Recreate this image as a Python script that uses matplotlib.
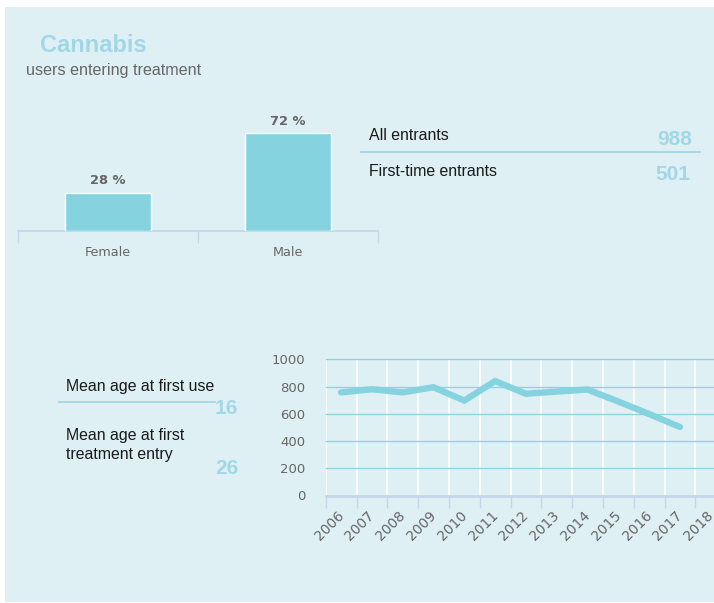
import matplotlib
matplotlib.use("Agg")
import matplotlib.pyplot as plt
from matplotlib.patches import Rectangle
from matplotlib.lines import Line2D
from matplotlib.transforms import ScaledTranslation

# ---- data ----
gender_categories = ["Female", "Male"]
gender_share = [28, 72]

entrant_labels = ["All entrants", "First-time entrants"]
entrant_values = [988, 501]

age_labels = ["Mean age at first use", "Mean age at first\ntreatment entry"]
age_values = [16, 26]

years = ["2006", "2007", "2008", "2009", "2010", "2011", "2012",
         "2013", "2014", "2015", "2016", "2017", "2018"]
trend_values = [757, 780, 757, 795, 697, 840, 747, 763, 778, 690, 598, 503]

# ---- style ----
W, H = 714, 603
PANEL = "#dff0f5"
BAR = "#86d3e0"
ACCENT = "#a2d7e7"
RULE = "#9dd3e3"
GREY = "#666666"
AXIS = "#c6d6ea"
TXT = "#1a1a1a"
SANS = "Liberation Sans"

fig = plt.figure(figsize=(W / 100, H / 100), dpi=100)
fig.patch.set_facecolor("white")


def fx(x):
    return x / W


def fy(y):
    return 1 - y / H


fig.add_artist(Rectangle((fx(5), fy(602)), fx(W) - fx(5), fy(7) - fy(602),
                         transform=fig.transFigure, facecolor=PANEL,
                         edgecolor="none", zorder=0))

# titles
fig.text(fx(40), fy(52), "Cannabis", fontsize=17, fontweight="bold",
         color=ACCENT, family=SANS, va="baseline", ha="left")
fig.text(fx(26), fy(74.5), "users entering treatment", fontsize=11.6,
         color=GREY, family=SANS, va="baseline", ha="left")

# ---- bar chart ----
axb = fig.add_axes([fx(18), fy(231), fx(378) - fx(18), (136) / H])
axb.set_facecolor("none")
xb = list(range(len(gender_categories)))
bars = axb.bar(xb, gender_share, width=0.483, color=BAR, edgecolor="white",
               linewidth=1.0, zorder=3)
axb.set_xlim(-0.5, len(gender_categories) - 0.5)
axb.set_ylim(0, 100)
for s in ["top", "right", "left"]:
    axb.spines[s].set_visible(False)
axb.spines["bottom"].set_color(AXIS)
axb.spines["bottom"].set_linewidth(1.3)
axb.set_yticks([])
axb.set_xticks([i - 0.5 for i in range(len(gender_categories) + 1)])
axb.set_xticklabels([])
axb.tick_params(axis="x", which="major", length=8.6, width=1.0, color=AXIS)
axb.set_xticks(xb, minor=True)
axb.set_xticklabels(gender_categories, minor=True)
axb.tick_params(axis="x", which="minor", length=0, pad=11, labelsize=9.2,
                labelcolor=GREY)
for b, v in zip(bars, gender_share):
    axb.annotate(f"{v} %", (b.get_x() + b.get_width() / 2, b.get_height()),
                 xytext=(0, 4), textcoords="offset points", ha="center",
                 va="bottom", fontsize=9.4, fontweight="bold", color=GREY)

# ---- entrants ----
fig.text(fx(369), fy(140.5), entrant_labels[0], fontsize=11.4, color=TXT,
         family=SANS, va="baseline")
fig.text(fx(692), fy(145), str(entrant_values[0]), fontsize=15,
         fontweight="bold", color=ACCENT, family=SANS, va="baseline", ha="right")
fig.add_artist(Line2D([fx(361), fx(700)], [fy(152), fy(152)],
                      transform=fig.transFigure, color=RULE, linewidth=1.2))
fig.text(fx(369), fy(175.7), entrant_labels[1], fontsize=11.4, color=TXT,
         family=SANS, va="baseline")
fig.text(fx(690), fy(179.5), str(entrant_values[1]), fontsize=15,
         fontweight="bold", color=ACCENT, family=SANS, va="baseline", ha="right")

# ---- ages ----
fig.text(fx(66), fy(390.7), age_labels[0], fontsize=11.4, color=TXT,
         family=SANS, va="baseline")
fig.add_artist(Line2D([fx(59), fx(215)], [fy(402), fy(402)],
                      transform=fig.transFigure, color=RULE, linewidth=1.2))
fig.text(fx(238.5), fy(414), str(age_values[0]), fontsize=15,
         fontweight="bold", color=ACCENT, family=SANS, va="baseline", ha="right")
for k, line in enumerate(age_labels[1].split("\n")):
    fig.text(fx(66), fy(440 + 19 * k), line, fontsize=11.4, color=TXT,
             family=SANS, va="baseline")
fig.text(fx(238.5), fy(474.3), str(age_values[1]), fontsize=15,
         fontweight="bold", color=ACCENT, family=SANS, va="baseline", ha="right")

# ---- trend line ----
left, right, top, bottom = 325.7, 714, 359.3, 495.5
axl = fig.add_axes([fx(left), fy(bottom), fx(right) - fx(left),
                    (bottom - top) / H])
axl.set_facecolor("none")
step = 30.8
axl.set_xlim(0, (right - left) / step)
axl.set_ylim(0, 1000)
xs = [i + 0.5 for i in range(len(trend_values))]
axl.plot(xs, trend_values, color=BAR, linewidth=4.6, solid_capstyle="round",
         solid_joinstyle="miter", zorder=4)
for yv in [200, 400, 600, 800, 1000]:
    axl.axhline(yv, color="#8fd3e1", linewidth=1.0, zorder=2, clip_on=False)
for i in range(len(years)):
    axl.axvline(i, color="white", linewidth=1.2, zorder=1)
for s in ["top", "right", "left"]:
    axl.spines[s].set_visible(False)
axl.spines["bottom"].set_color(AXIS)
axl.spines["bottom"].set_linewidth(2.0)
axl.spines["bottom"].set_zorder(3)
axl.set_yticks([0, 200, 400, 600, 800, 1000])
axl.tick_params(axis="y", length=0, pad=14.5, labelsize=9.5, labelcolor=GREY)
axl.set_xticks(range(len(years)))
axl.set_xticklabels(years, rotation=45, ha="center", va="top")
axl.tick_params(axis="x", length=8.5, width=1.0, color=AXIS, pad=1.0,
                labelsize=10, labelcolor=GREY)
off = ScaledTranslation(3.5 / 100, 0, fig.dpi_scale_trans)
for lbl in axl.get_xticklabels():
    lbl.set_transform(lbl.get_transform() + off)

fig.savefig("out.png", dpi=100, facecolor=fig.get_facecolor())
